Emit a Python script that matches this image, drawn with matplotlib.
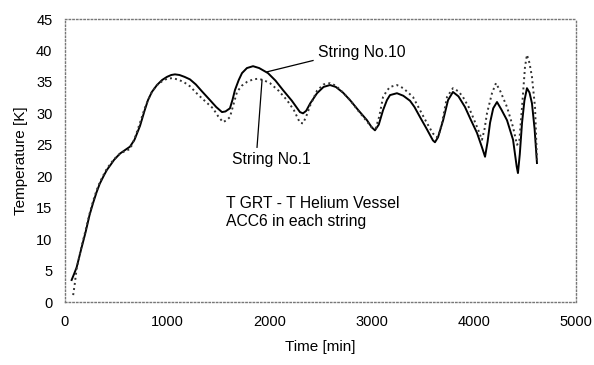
import matplotlib.pyplot as plt

plt.rcParams['font.family'] = ['Liberation Sans', 'DejaVu Sans']

# String No.10 (solid line)
t10 = [65, 90, 114, 160, 200, 240, 274, 310, 340, 380, 410, 450, 480, 538, 600,
       636, 680, 734, 780, 812, 850, 900, 950, 998, 1040, 1076, 1120, 1170,
       1223, 1280, 1340, 1419, 1480, 1536, 1570, 1614, 1640, 1663, 1700, 1732,
       1780, 1840, 1900, 1986, 2060, 2133, 2220, 2299, 2329, 2360, 2400, 2466,
       2530, 2593, 2650, 2720, 2789, 2870, 2955, 3000, 3033, 3070, 3112, 3150,
       3180, 3248, 3310, 3376, 3420, 3474, 3540, 3600, 3620, 3650, 3700, 3748,
       3796, 3850, 3914, 3970, 4031, 4080, 4110, 4135, 4159, 4190, 4227, 4270,
       4325, 4384, 4420, 4432, 4450, 4472, 4495, 4520, 4545, 4569, 4595, 4618]
T10 = [3.5, 4.5, 5.5, 8.5, 11, 13.8, 15.7, 17.5, 18.8, 20.1, 21, 21.9, 22.6,
       23.6, 24.3, 24.7, 25.8, 28.0, 30.5, 32.1, 33.4, 34.5, 35.3, 35.8, 36.1,
       36.2, 36.1, 35.8, 35.4, 34.6, 33.5, 32.1, 31.0, 30.2, 30.3, 30.8, 32.2,
       33.7, 35.3, 36.4, 37.2, 37.5, 37.2, 36.4, 35.2, 33.7, 32.0, 30.2, 30.0,
       30.4, 31.6, 33.2, 34.2, 34.5, 34.2, 33.3, 32.1, 30.5, 28.9, 27.8, 27.3,
       28.2, 30.5, 32.1, 32.9, 33.2, 32.8, 32.0, 31.0, 29.4, 27.5, 25.7, 25.4,
       26.2, 28.9, 32.1, 33.4, 32.7, 31.0, 29.0, 26.9, 24.6, 23.1, 25.5, 28.5,
       30.8, 31.8, 30.6, 28.9, 25.8, 21.5, 20.5, 23.5, 28.5, 32.0, 34.0, 33.3,
       31.6, 27.5, 22.1]

# String No.1 (dotted line)
t1 = [80, 95, 114, 160, 200, 240, 274, 310, 340, 380, 410, 450, 480, 538, 600,
      636, 680, 734, 780, 812, 850, 900, 950, 998, 1050, 1100, 1160, 1223,
      1300, 1380, 1448, 1500, 1546, 1580, 1614, 1650, 1683, 1730, 1781, 1840,
      1888, 1940, 2006, 2090, 2172, 2240, 2299, 2329, 2360, 2400, 2466, 2530,
      2593, 2650, 2720, 2789, 2870, 2955, 3000, 3040, 3075, 3112, 3150, 3180,
      3248, 3310, 3405, 3474, 3540, 3600, 3640, 3665, 3689, 3738, 3796, 3850,
      3894, 3950, 3992, 4040, 4080, 4105, 4129, 4178, 4217, 4260, 4325, 4384,
      4423, 4445, 4472, 4501, 4520, 4545, 4569, 4599, 4618]
T1 = [1.1, 2.8, 5.3, 8.7, 11.3, 14.0, 16.0, 17.8, 19.0, 20.3, 21.2, 22.1, 22.7,
      23.6, 24.1, 24.3, 25.9, 28.5, 30.8, 32.1, 33.4, 34.5, 35.1, 35.5, 35.6,
      35.4, 35.0, 34.3, 33.0, 31.8, 30.8, 29.5, 28.6, 28.9, 29.4, 31.5, 33.4,
      34.4, 35.0, 35.4, 35.5, 35.3, 34.8, 33.6, 32.1, 30.5, 28.5, 28.4, 29.5,
      31.3, 33.6, 34.6, 34.8, 34.4, 33.3, 32.1, 30.4, 28.7, 27.8, 27.6, 29.5,
      32.6, 33.6, 34.2, 34.5, 34.0, 32.6, 30.5, 28.5, 26.8, 26.2, 27.0, 28.5,
      32.6, 34.0, 33.5, 32.6, 31.0, 29.4, 27.5, 25.8, 27.5, 30.0, 33.2, 34.8,
      33.5, 31.0, 27.8, 25.0, 25.5, 31.0, 37.4, 39.3, 38.0, 35.8, 31.0, 22.6]

fig = plt.figure(figsize=(5.94, 3.65), dpi=100)
ax = fig.add_axes([0.1094, 0.1726, 0.8603, 0.7753])

ax.plot(t10, T10, color='black', lw=1.4)
ax.plot(t1, T1, color='#333333', lw=1.4, ls=':')

ax.set_xlim(0, 5000)
ax.set_ylim(0, 45)
ax.set_xticks(range(0, 5001, 1000))
ax.set_yticks(range(0, 46, 5))
ax.tick_params(length=0, labelsize=10.5, pad=9)
for s in ax.spines.values():
    s.set_linestyle(':')
    s.set_color('#777777')
    s.set_linewidth(1)

ax.set_xlabel('Time [min]', fontsize=11, labelpad=8)
ax.set_ylabel('Temperature [K]', fontsize=11, labelpad=6)

# annotations
ax.plot([1977, 2427], [36.6, 38.4], color='black', lw=0.9)
ax.text(2475, 39.7, 'String No.10', fontsize=11.3, va='center')
ax.plot([1928, 1879], [35.3, 24.6], color='black', lw=0.9)
ax.text(1634, 22.7, 'String No.1', fontsize=11.3, va='center')
ax.text(1575, 16.9, 'T GRT - T Helium Vessel\nACC6 in each string',
        fontsize=11.3, va='top', linespacing=1.25)

fig.savefig('out.png', dpi=100)
